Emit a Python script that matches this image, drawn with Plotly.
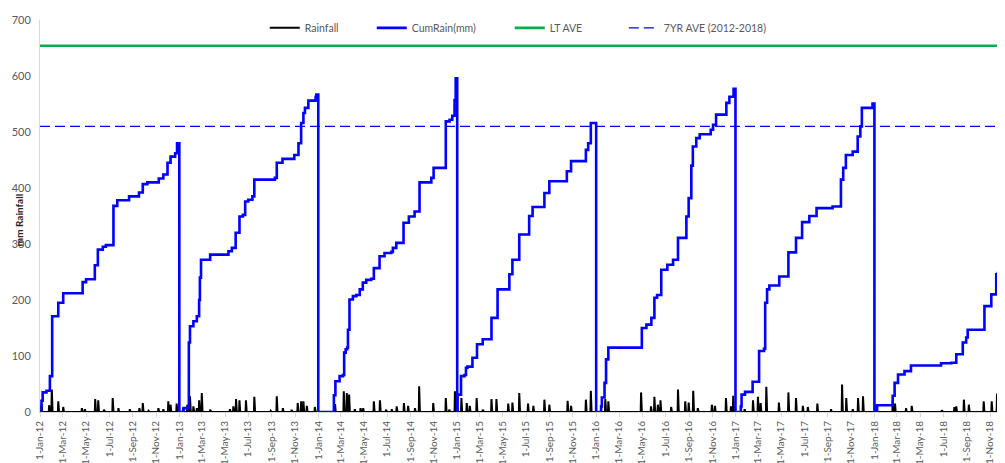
import pandas as pd
import plotly.graph_objects as go

start_date = "2012-01-01"
end_date = "2018-12-31"
view_end = "2018-12-10"

lt_ave = 654
yr7_ave = 510

years = [2012, 2013, 2014, 2015, 2016, 2017, 2018]

# Cumulative rainfall breakpoints (day of year, mm)
cum_2012_doy = [0, 4, 7, 17, 26, 32, 48, 61, 112, 121, 144, 152, 165, 173, 193, 203, 234, 260, 270, 282, 312, 324, 335, 343, 355, 360, 365]
cum_2012_mm = [0, 20, 35, 38, 64, 171, 195, 212, 232, 237, 262, 290, 295, 298, 368, 378, 385, 392, 407, 410, 417, 424, 445, 456, 462, 480, 480]
cum_2013_doy = [0, 11, 25, 28, 37, 46, 52, 54, 57, 81, 129, 138, 148, 158, 167, 173, 181, 192, 197, 251, 256, 271, 302, 313, 320, 326, 330, 339, 358, 360, 364]
cum_2013_mm = [0, 7, 124, 153, 162, 171, 200, 240, 272, 281, 287, 293, 320, 349, 352, 376, 379, 385, 415, 418, 445, 452, 459, 480, 516, 534, 543, 556, 563, 567, 567]
cum_2014_doy = [0, 41, 45, 56, 65, 68, 72, 76, 78, 82, 91, 100, 109, 117, 126, 139, 146, 161, 174, 192, 196, 205, 224, 238, 253, 266, 297, 303, 335, 345, 352, 358, 361, 364]
cum_2014_mm = [0, 30, 55, 64, 66, 106, 112, 115, 147, 201, 207, 209, 219, 231, 236, 238, 257, 278, 284, 286, 293, 302, 338, 349, 358, 410, 418, 436, 519, 522, 529, 557, 596, 596]
cum_2015_doy = [0, 1, 10, 19, 23, 27, 40, 52, 67, 90, 106, 137, 145, 163, 189, 198, 229, 242, 288, 299, 338, 344, 351, 364]
cum_2015_mm = [0, 31, 64, 66, 79, 81, 97, 121, 130, 168, 219, 246, 272, 317, 350, 366, 391, 412, 430, 448, 468, 480, 516, 516]
cum_2016_doy = [0, 13, 15, 22, 26, 32, 120, 132, 145, 153, 160, 171, 187, 202, 215, 237, 243, 250, 254, 263, 272, 301, 307, 315, 342, 350, 361, 365]
cum_2016_mm = [0, 10, 26, 52, 94, 115, 150, 156, 168, 204, 209, 254, 263, 272, 311, 349, 382, 440, 474, 489, 496, 504, 513, 531, 552, 563, 577, 577]
cum_2017_doy = [0, 14, 16, 25, 45, 62, 75, 78, 83, 89, 115, 139, 159, 175, 194, 213, 255, 277, 283, 290, 308, 321, 328, 332, 360, 364]
cum_2017_mm = [0, 10, 31, 36, 54, 109, 113, 195, 219, 226, 242, 285, 311, 339, 350, 364, 367, 415, 436, 459, 465, 492, 510, 543, 551, 551]
cum_2018_doy = [0, 7, 48, 53, 62, 79, 96, 175, 202, 215, 232, 241, 245, 289, 307, 320, 324, 342, 345, 352]
cum_2018_mm = [0, 12, 29, 52, 67, 73, 83, 87, 88, 103, 124, 133, 147, 189, 210, 246, 248, 263, 275, 285]

# Daily rainfall events (day of year, mm)
rain_2012_doy = [4, 24, 25, 31, 48, 61, 110, 118, 145, 153, 168, 191, 206, 236, 261, 270, 285, 311, 324, 337, 343, 359]
rain_2012_mm = [13, 12, 9, 40, 19, 9, 7, 5, 23, 21, 4, 25, 7, 5, 7, 16, 2, 7, 5, 19, 13, 15]
rain_2013_doy = [10, 21, 28, 37, 46, 52, 59, 81, 133, 142, 149, 158, 175, 197, 240, 256, 272, 295, 311, 320, 326, 335, 356]
rain_2013_mm = [7, 13, 28, 10, 7, 21, 34, 4, 5, 10, 23, 21, 21, 27, 2, 28, 7, 4, 16, 19, 19, 11, 9]
rain_2014_doy = [44, 67, 75, 81, 96, 111, 118, 146, 162, 178, 193, 206, 225, 236, 254, 265, 302, 335, 344, 359]
rain_2014_mm = [14, 37, 34, 31, 5, 7, 7, 19, 21, 4, 5, 10, 16, 11, 7, 46, 16, 25, 4, 37]
rain_2015_doy = [11, 25, 33, 51, 67, 90, 103, 134, 145, 163, 186, 200, 229, 242, 290, 299, 338, 351]
rain_2015_mm = [25, 16, 11, 25, 4, 23, 23, 15, 17, 34, 15, 11, 22, 13, 20, 11, 22, 38]
rain_2016_doy = [24, 32, 118, 144, 153, 162, 169, 197, 215, 234, 243, 255, 267, 304, 312, 341, 354, 360]
rain_2016_mm = [23, 19, 35, 10, 27, 13, 21, 9, 40, 19, 17, 38, 7, 13, 11, 25, 10, 29]
rain_2017_doy = [24, 46, 59, 66, 81, 114, 139, 159, 177, 190, 215, 251, 280, 291, 308, 322, 335]
rain_2017_mm = [5, 21, 27, 16, 45, 17, 35, 25, 11, 9, 15, 5, 49, 25, 5, 25, 28]
rain_2018_doy = [48, 54, 83, 98, 177, 210, 215, 235, 248, 287, 308, 322, 333]
rain_2018_mm = [22, 15, 7, 11, 3, 9, 10, 22, 13, 19, 19, 33, 13]

cum_doys = [cum_2012_doy, cum_2013_doy, cum_2014_doy, cum_2015_doy, cum_2016_doy, cum_2017_doy, cum_2018_doy]
cum_vals = [cum_2012_mm, cum_2013_mm, cum_2014_mm, cum_2015_mm, cum_2016_mm, cum_2017_mm, cum_2018_mm]
rain_doys = [rain_2012_doy, rain_2013_doy, rain_2014_doy, rain_2015_doy, rain_2016_doy, rain_2017_doy, rain_2018_doy]
rain_vals = [rain_2012_mm, rain_2013_mm, rain_2014_mm, rain_2015_mm, rain_2016_mm, rain_2017_mm, rain_2018_mm]

cum_x, cum_y = [], []
for yr, d, v in zip(years, cum_doys, cum_vals):
    base = pd.Timestamp(f"{yr}-01-01")
    cum_x += [base + pd.Timedelta(days=k) for k in d]
    cum_y += list(v)

days = pd.date_range(start_date, end_date, freq="D")
rain = pd.Series(0.0, index=days)
for yr, d, v in zip(years, rain_doys, rain_vals):
    base = pd.Timestamp(f"{yr}-01-01")
    for k, mm in zip(d, v):
        rain[base + pd.Timedelta(days=k)] = mm

font_family = "Lato, 'Open Sans', Arial, sans-serif"
grey = "#595959"

fig = go.Figure()
fig.add_trace(go.Scatter(x=rain.index, y=rain.values, mode="lines", name="Rainfall",
                         line=dict(color="black", width=2.0), legend="legend"))
fig.add_trace(go.Scatter(x=cum_x, y=cum_y, mode="lines", name="CumRain(mm)",
                         line=dict(color="#0000FF", width=2.6, shape="hv"), legend="legend2"))
fig.add_trace(go.Scatter(x=[days[0], days[-1]], y=[lt_ave, lt_ave], mode="lines", name="LT AVE",
                         line=dict(color="#00B050", width=2.6), legend="legend3"))
fig.add_trace(go.Scatter(x=[days[0], days[-1]], y=[yr7_ave, yr7_ave], mode="lines",
                         name="7YR AVE (2012-2018)",
                         line=dict(color="#0000FF", width=1.3, dash="10px,5px"), legend="legend4"))


def legend_at(xp):
    return dict(orientation="h", x=xp, xanchor="left", y=0.98, yanchor="middle",
                font=dict(size=10.5, color=grey), bgcolor="rgba(0,0,0,0)")


# page has an 8px body margin: figure is 997x455 so that it fills the 1005x463 window
fig.update_layout(
    width=997, height=455,
    margin=dict(l=32, r=0, t=12, b=51),
    paper_bgcolor="white", plot_bgcolor="white",
    font=dict(family=font_family, color=grey, size=10),
    showlegend=True,
    legend=legend_at(0.2329),
    legend2=legend_at(0.3438),
    legend3=legend_at(0.4868),
    legend4=legend_at(0.6050),
    xaxis=dict(type="date", range=[start_date, view_end], tick0=start_date, dtick="M2",
               tickformat="%-d-%b-%y", tickangle=-90, tickfont=dict(size=10, color=grey),
               ticks="outside", ticklen=4, tickcolor="#d9d9d9",
               showline=True, linecolor="#d9d9d9", showgrid=False, zeroline=False,
               automargin=False),
    yaxis=dict(range=[0, 700], dtick=100, tickfont=dict(size=11, color=grey),
               showline=True, linecolor="#d9d9d9", showgrid=False, zeroline=False,
               ticks="", ticklabelstandoff=6, automargin=False),
    annotations=[dict(text="<b>mm Rainfall</b>", xref="paper", yref="paper",
                      x=-0.0215, y=0.49, xanchor="center", yanchor="middle",
                      textangle=-90, showarrow=False,
                      font=dict(size=10, color="#262626", family=font_family))],
)

fig.write_html("out.html")
